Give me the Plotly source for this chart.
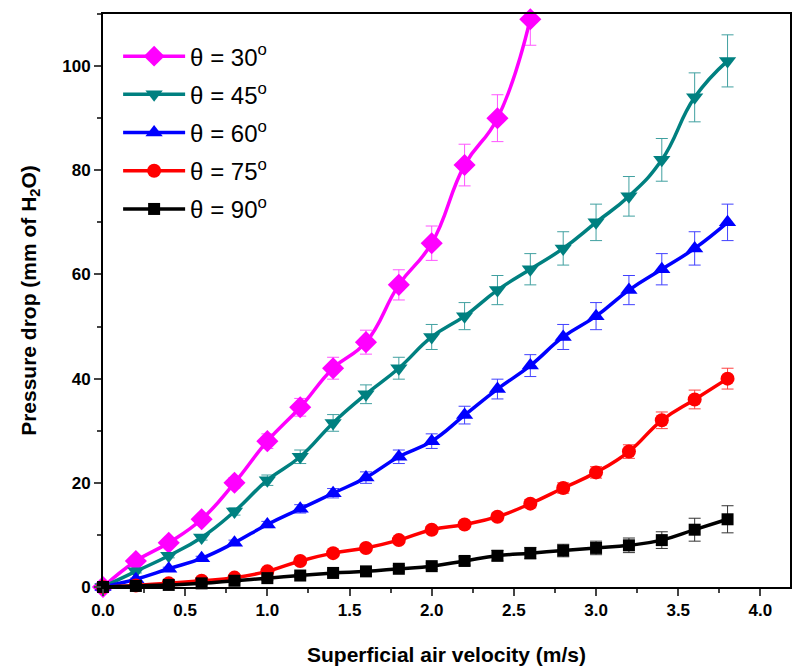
import plotly.graph_objects as go

velocity = [0.0, 0.2, 0.4, 0.6, 0.8, 1.0, 1.2, 1.4, 1.6, 1.8, 2.0, 2.2, 2.4, 2.6,
            2.8, 3.0, 3.2, 3.4, 3.6, 3.8]

dp_30 = [0, 5, 8.5, 13, 20, 28, 34.5, 42, 47, 58, 66, 81, 90, 109]
err_30 = [0, 0.5, 0.6, 0.7, 1.0, 1.4, 1.7, 2.1, 2.3, 2.9, 3.3, 4.0, 4.5, 5.0]

dp_45 = [0, 3, 6, 9.5, 14.5, 20.5, 25, 31.5, 37, 42, 48, 52, 57, 61, 65, 70, 75, 82, 94, 101]
err_45 = [0, 0.3, 0.4, 0.5, 0.7, 1.0, 1.3, 1.6, 1.8, 2.1, 2.4, 2.6, 2.8, 3.0, 3.2, 3.5, 3.8, 4.1, 4.7, 5.0]

dp_60 = [0, 1.5, 3.5, 5.5, 8.5, 12, 15, 18, 21, 25, 28, 33, 38, 42.5, 48, 52, 57, 61, 65, 70]
err_60 = [0, 0.2, 0.3, 0.4, 0.5, 0.6, 0.8, 0.9, 1.1, 1.3, 1.4, 1.7, 1.9, 2.1, 2.4, 2.6, 2.8, 3.0, 3.2, 3.5]

dp_75 = [0, 0.3, 0.7, 1.2, 1.8, 3, 5, 6.5, 7.5, 9, 11, 12, 13.5, 16, 19, 22, 26, 32, 36, 40]
err_75 = [0, 0.1, 0.1, 0.1, 0.2, 0.2, 0.3, 0.3, 0.4, 0.5, 0.6, 0.6, 0.7, 0.8, 1.0, 1.1, 1.3, 1.6, 1.8, 2.0]

dp_90 = [0, 0.2, 0.4, 0.7, 1.2, 1.7, 2.2, 2.7, 3, 3.5, 4, 5, 6, 6.5, 7, 7.5, 8, 9, 11, 13]
err_90 = [0, 0.2, 0.2, 0.3, 0.3, 0.4, 0.4, 0.5, 0.5, 0.6, 0.6, 0.8, 1.0, 1.1, 1.2, 1.3, 1.4, 1.6, 2.2, 2.6]

series = [
    ("θ = 30<sup>o</sup>", dp_30, err_30, "#FF00FF", "#FF55FF", "diamond", 17),
    ("θ = 45<sup>o</sup>", dp_45, err_45, "#008080", "#40A0A0", "triangle-down", 15),
    ("θ = 60<sup>o</sup>", dp_60, err_60, "#0000FF", "#4040FF", "triangle-up", 15),
    ("θ = 75<sup>o</sup>", dp_75, err_75, "#FF0000", "#FF4040", "circle", 14),
    ("θ = 90<sup>o</sup>", dp_90, err_90, "#000000", "#333333", "square", 12),
]

fig = go.Figure()
for i, (name, y, err, col, ecol, sym, ms) in enumerate(series):
    fig.add_trace(go.Scatter(
        x=velocity[:len(y)], y=y, name=name, mode="lines+markers",
        line=dict(color=col, width=3.5, shape="spline", smoothing=1.3),
        marker=dict(symbol=sym, size=ms, color=col),
        error_y=dict(type="data", array=err, visible=True, color=ecol,
                     thickness=1, width=6),
        cliponaxis=False, legendgroup=str(i),
    ))

fig.update_layout(
    width=792, height=668,
    margin=dict(l=103, r=0, t=14, b=81),
    plot_bgcolor="white", paper_bgcolor="white",
    font=dict(family="Liberation Sans, Arial, sans-serif", color="black"),
    showlegend=True,
    legend=dict(x=0.022, y=0.965, xanchor="left", yanchor="top",
                font=dict(size=24, family="Liberation Sans, Arial"),
                bgcolor="rgba(0,0,0,0)", itemwidth=62, tracegroupgap=4,
                traceorder="grouped"),
    xaxis=dict(
        range=[0, 4.18], tickmode="array",
        tickvals=[0, 0.5, 1, 1.5, 2, 2.5, 3, 3.5, 4],
        ticktext=["0.0", "0.5", "1.0", "1.5", "2.0", "2.5", "3.0", "3.5", "4.0"],
        ticks="outside", ticklen=7, tickwidth=2, showline=True, linewidth=2,
        linecolor="black", mirror=True, showgrid=False, zeroline=False,
        tickfont=dict(size=17, family="Liberation Sans, Arial", weight="bold"),
        minor=dict(dtick=0.25, tick0=0, ticks="outside", ticklen=4, tickwidth=1.5, showgrid=False),
        title=dict(text="<b>Superficial air velocity (m/s)</b>",
                   font=dict(size=21), standoff=28),
    ),
    yaxis=dict(
        range=[0, 110], tickmode="array",
        tickvals=[0, 20, 40, 60, 80, 100],
        ticks="outside", ticklen=7, tickwidth=2, showline=True, linewidth=2,
        linecolor="black", mirror=True, showgrid=False, zeroline=False,
        tickfont=dict(size=17, family="Liberation Sans, Arial", weight="bold"),
        minor=dict(dtick=10, tick0=0, ticks="outside", ticklen=4, tickwidth=1.5, showgrid=False),
        title=dict(text="<b>Pressure drop (mm of H<sub>2</sub>O)</b>",
                   font=dict(size=21), standoff=20),
    ),
)

fig.write_html("out.html")
